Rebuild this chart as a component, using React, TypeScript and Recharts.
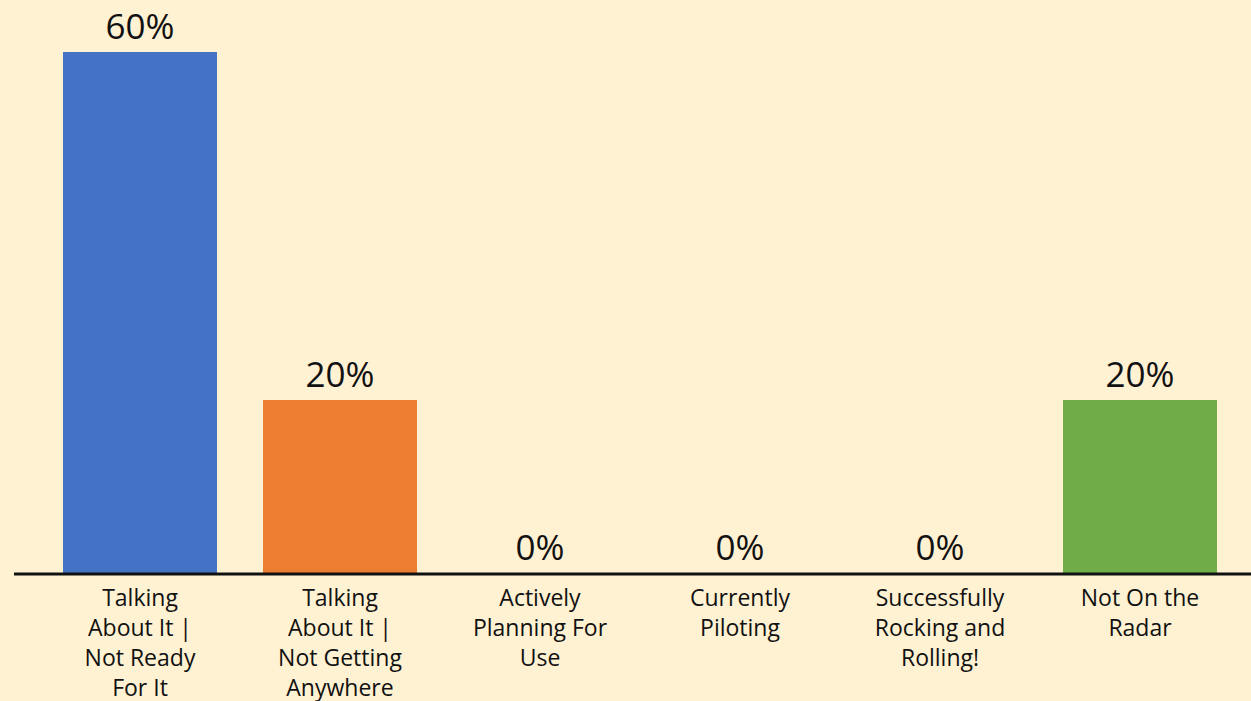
import React from 'react';
import { BarChart, Bar, XAxis, YAxis, Cell } from 'recharts';

const categories = [
  'Talking\nAbout It |\nNot Ready\nFor It',
  'Talking\nAbout It |\nNot Getting\nAnywhere',
  'Actively\nPlanning For\nUse',
  'Currently\nPiloting',
  'Successfully\nRocking and\nRolling!',
  'Not On the\nRadar',
];
const percents = [60, 20, 0, 0, 0, 20];
const barColors = ['#4472C4', '#ED7D31', '#4472C4', '#4472C4', '#4472C4', '#70AD47'];

const data = categories.map((name, i) => ({ name, value: percents[i] }));

const FONT = '"Open Sans", sans-serif';

const CategoryTick = (props: any) => {
  const { x, y, payload } = props;
  const lines = String(payload.value).split('\n');
  return (
    <text x={x} y={y} textAnchor="middle" fontFamily={FONT} fontSize={23} fill="#111">
      {lines.map((line, i) => (
        <tspan key={i} x={x} dy={i === 0 ? 24 : 30}>{line}</tspan>
      ))}
    </text>
  );
};

// bars with 0 have no height, so draw the labels ourselves from the bar geometry
const ValueLabel = (props: any) => {
  const { x, y, width, value } = props;
  return (
    <text x={x + width / 2} y={y - 13} textAnchor="middle" fontFamily={FONT} fontSize={35} fill="#111">
      {`${value}%`}
    </text>
  );
};

export default function App() {
  return (
    <div style={{ width: 1251, height: 701, background: '#FFF2D3' }}>
      <style>{'body{margin:0}'}</style>
      <BarChart
        width={1251}
        height={701}
        data={data}
        margin={{ top: 52, right: 0, bottom: 0, left: 14 }}
        barCategoryGap={23}
      >
        <XAxis
          dataKey="name"
          interval={0}
          tickLine={false}
          axisLine={{ stroke: '#111', strokeWidth: 3 }}
          padding={{ left: 26, right: 11 }}
          tick={<CategoryTick />}
          height={127}
        />
        <YAxis hide domain={[0, 60]} />
        <Bar dataKey="value" isAnimationActive={false} minPointSize={1} label={<ValueLabel />}>
          {data.map((_, i) => (
            <Cell key={`c-${i}`} fill={barColors[i]} />
          ))}
        </Bar>
      </BarChart>
    </div>
  );
}
